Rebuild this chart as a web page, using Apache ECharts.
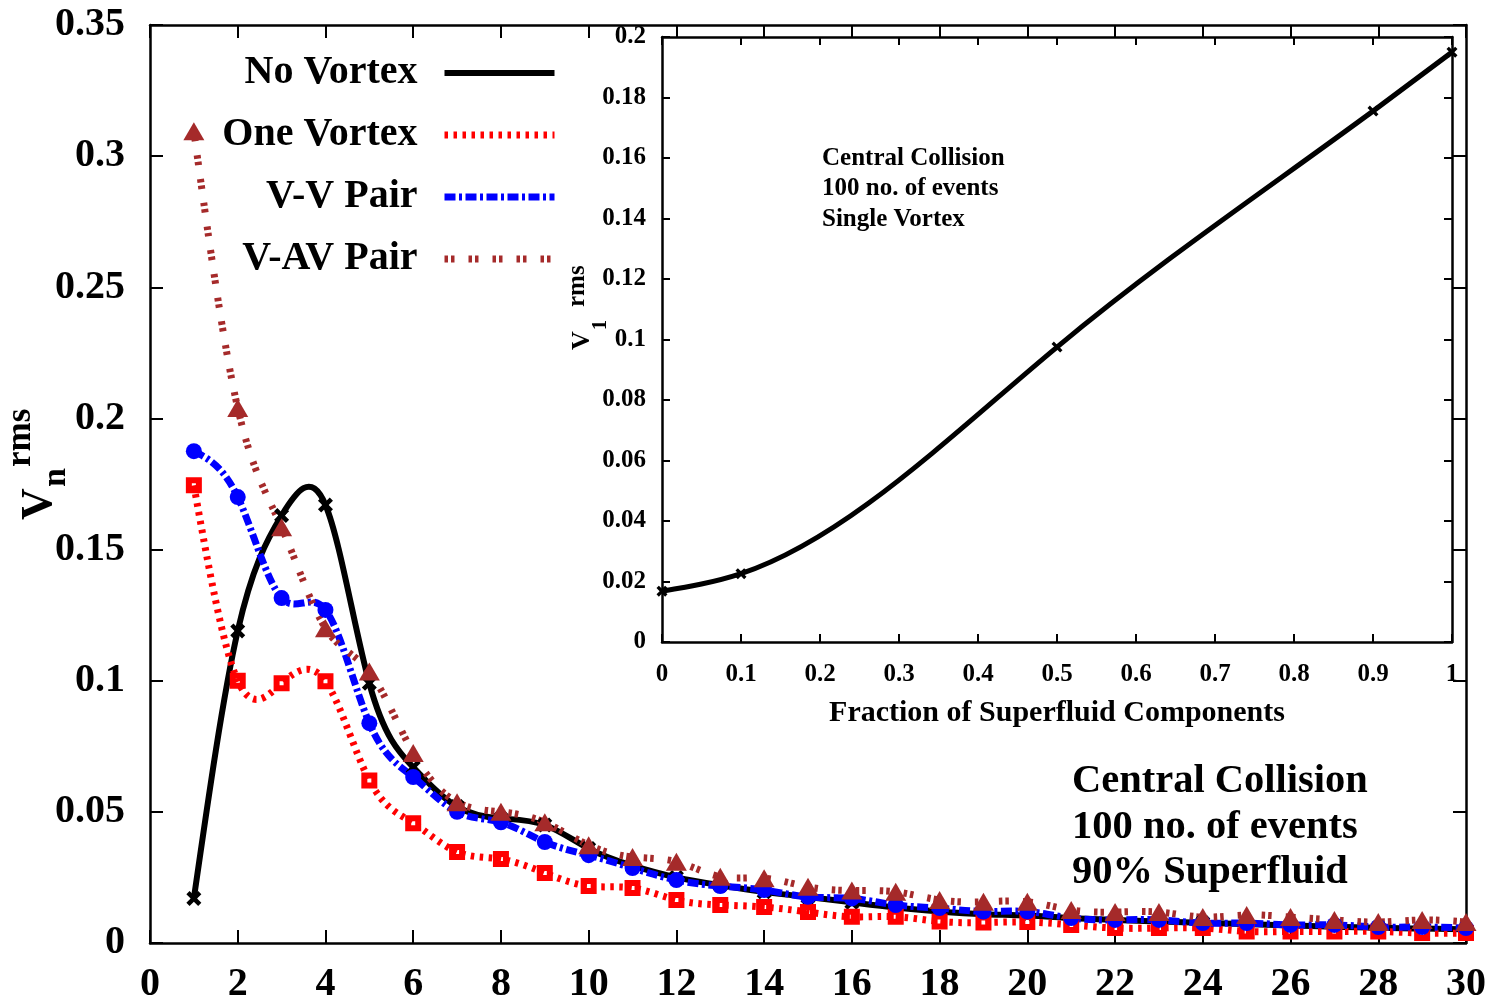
<!DOCTYPE html>
<html>
<head>
<meta charset="utf-8">
<script src="https://cdn.jsdelivr.net/npm/echarts@6/dist/echarts.min.js"></script>
<style>
  html, body { margin: 0; padding: 0; background: #fff; }
  #chart { width: 1499px; height: 1006px; }
</style>
</head>
<body>
<div id="chart"></div>
<script>
// Harmonic order n
const harmonics = [1, 2, 3, 4, 5, 6, 7, 8, 9, 10, 11, 12, 13, 14, 15, 16, 17, 18, 19, 20, 21, 22, 23, 24, 25, 26, 27, 28, 29, 30];

// v_n^rms for each vortex configuration
const noVortex = [0.017, 0.119, 0.163, 0.167, 0.099, 0.067, 0.052, 0.0475, 0.045, 0.036, 0.0295, 0.025, 0.022, 0.0195, 0.0175, 0.0155, 0.0135, 0.012, 0.011, 0.0105, 0.0095, 0.0088, 0.0082, 0.0077, 0.0072, 0.0067, 0.0062, 0.0058, 0.0055, 0.0052];
const oneVortex = [0.1745, 0.100, 0.099, 0.0998, 0.062, 0.0457, 0.0347, 0.032, 0.0267, 0.0217, 0.021, 0.0164, 0.0145, 0.0137, 0.0118, 0.0100, 0.0100, 0.0082, 0.0078, 0.0080, 0.0069, 0.0057, 0.0057, 0.0057, 0.0044, 0.0044, 0.0044, 0.0044, 0.0038, 0.0038];
const vvPair = [0.1875, 0.170, 0.1315, 0.127, 0.0838, 0.0633, 0.050, 0.046, 0.0385, 0.0335, 0.0286, 0.024, 0.0217, 0.0202, 0.0176, 0.017, 0.0145, 0.0133, 0.012, 0.012, 0.0095, 0.0088, 0.0088, 0.0076, 0.0076, 0.0069, 0.0069, 0.0061, 0.0061, 0.0057];
const vavPair = [0.3095, 0.204, 0.1585, 0.120, 0.1035, 0.0724, 0.0537, 0.050, 0.046, 0.0373, 0.0328, 0.031, 0.0253, 0.0247, 0.0214, 0.020, 0.0195, 0.0164, 0.0157, 0.0157, 0.0126, 0.0118, 0.0118, 0.0099, 0.0107, 0.0099, 0.0088, 0.008, 0.0088, 0.008];

// Inset: v_1^rms of a single vortex vs superfluid fraction
const superfluidFraction = [0, 0.1, 0.5, 0.9, 1.0];
const v1rms = [0.0168, 0.0226, 0.0975, 0.1755, 0.1950];

const seriesNames = ['No Vortex', 'One Vortex', 'V-V Pair', 'V-AV Pair'];

const FONT = 'Liberation Serif';
const crossPath = 'path://M0,3L3,0L7,4L11,0L14,3L10,7L14,11L11,14L7,10L3,14L0,11L4,7Z';
const boxPath = 'path://M0,0H16V16H0Z M6,6V10H10V6Z';

// line styles shared by the plotted curves and their legend samples
const styles = [
  { color: '#000000', width: 6 },
  { color: '#ff0000', width: 7, type: [3.5, 5.5] },
  { color: '#0000ff', width: 7, type: [11, 3.5, 3, 3.5] },
  { color: '#a52a2a', width: 7, type: [3.5, 3, 3.5, 14] }
];

function zip(xs, ys) { return xs.map((x, i) => [x, ys[i]]); }

// Second derivatives of the natural cubic spline through (xs, ys)
function splineMoments(xs, ys) {
  const n = xs.length;
  const M = new Array(n).fill(0);
  if (n < 3) return M;
  const h = [];
  for (let i = 0; i < n - 1; i++) h.push(xs[i + 1] - xs[i]);
  const a = [], b = [], c = [], d = [];
  for (let i = 1; i < n - 1; i++) {
    a.push(h[i - 1]);
    b.push(2 * (h[i - 1] + h[i]));
    c.push(h[i]);
    d.push(6 * ((ys[i + 1] - ys[i]) / h[i] - (ys[i] - ys[i - 1]) / h[i - 1]));
  }
  const m = b.length;
  for (let i = 1; i < m; i++) {
    const w = a[i] / b[i - 1];
    b[i] -= w * c[i - 1];
    d[i] -= w * d[i - 1];
  }
  const sol = new Array(m);
  sol[m - 1] = d[m - 1] / b[m - 1];
  for (let i = m - 2; i >= 0; i--) sol[i] = (d[i] - c[i] * sol[i + 1]) / b[i];
  for (let i = 0; i < m; i++) M[i + 1] = sol[i];
  return M;
}

// Spline curve as cubic Bezier segments, mapped through the axis scales
function splineRenderer(xs, ys, style) {
  const M = splineMoments(xs, ys);
  return function (params, api) {
    const pt = (x, y) => api.coord([x, y]);
    const p0 = pt(xs[0], ys[0]);
    let d = 'M' + p0[0] + ',' + p0[1];
    for (let i = 0; i < xs.length - 1; i++) {
      const h = xs[i + 1] - xs[i];
      const slope = (ys[i + 1] - ys[i]) / h;
      const s0 = slope - h * (2 * M[i] + M[i + 1]) / 6;
      const s1 = slope + h * (M[i] + 2 * M[i + 1]) / 6;
      const c1 = pt(xs[i] + h / 3, ys[i] + s0 * h / 3);
      const c2 = pt(xs[i + 1] - h / 3, ys[i + 1] - s1 * h / 3);
      const e = pt(xs[i + 1], ys[i + 1]);
      d += 'C' + c1[0] + ',' + c1[1] + ',' + c2[0] + ',' + c2[1] + ',' + e[0] + ',' + e[1];
    }
    return {
      type: 'path',
      shape: { pathData: d },
      style: {
        fill: null,
        stroke: style.color,
        lineWidth: style.width,
        lineDash: style.type || null
      },
      silent: true
    };
  };
}

function frameAxis(extra) {
  return Object.assign({
    type: 'value',
    splitLine: { show: false },
    axisLine: { show: true, onZero: false, lineStyle: { color: '#000', width: 2.5 } },
    axisTick: { show: true, inside: true, length: 13, lineStyle: { color: '#000', width: 2 } },
    axisLabel: { show: false },
    silent: true
  }, extra);
}

const mainLabel = { show: true, fontFamily: FONT, fontWeight: 'bold', fontSize: 40, color: '#000' };
const insetLabel = { show: true, fontFamily: FONT, fontWeight: 'bold', fontSize: 25, color: '#000' };
const insetTick = { show: true, inside: true, length: 8, lineStyle: { color: '#000', width: 2 } };

function textEl(x, y, text, size, rotated, extra) {
  return {
    type: 'text', x: x, y: y, z: 10,
    rotation: rotated ? Math.PI / 2 : 0,
    style: Object.assign({
      text: text, font: 'bold ' + size + 'px "' + FONT + '"', fill: '#000',
      align: 'left', textAlign: 'left',
      verticalAlign: rotated ? 'middle' : 'top', textVerticalAlign: rotated ? 'middle' : 'top'
    }, extra || {})
  };
}

const mainValues = [noVortex, oneVortex, vvPair, vavPair];
const mainSymbols = [
  { symbol: crossPath, symbolSize: 15 },
  { symbol: boxPath, symbolSize: 16 },
  { symbol: 'circle', symbolSize: 16 },
  { symbol: 'triangle', symbolSize: [21, 18] }
];

const series = [];
mainValues.forEach((vals, i) => {
  // curve
  series.push({
    name: seriesNames[i] + ' curve', type: 'custom', xAxisIndex: 0, yAxisIndex: 0,
    data: [[harmonics[0], vals[0]]],
    renderItem: splineRenderer(harmonics, vals, styles[i]),
    silent: true
  });
  // points
  series.push({
    name: seriesNames[i], type: 'line', xAxisIndex: 0, yAxisIndex: 0,
    data: zip(harmonics, vals), clip: false,
    symbol: mainSymbols[i].symbol, symbolSize: mainSymbols[i].symbolSize,
    lineStyle: { color: styles[i].color, width: 0, opacity: 0 },
    itemStyle: { color: styles[i].color },
    silent: true
  });
});

const insetStyle = { color: '#000000', width: 5 };
series.push({
  name: 'Single Vortex curve', type: 'custom', xAxisIndex: 2, yAxisIndex: 2, z: 5,
  data: [[superfluidFraction[0], v1rms[0]]],
  renderItem: splineRenderer(superfluidFraction, v1rms, insetStyle),
  silent: true
});
series.push({
  name: 'Single Vortex', type: 'line', xAxisIndex: 2, yAxisIndex: 2, z: 5,
  data: zip(superfluidFraction, v1rms), clip: false,
  symbol: crossPath, symbolSize: 11,
  lineStyle: { color: '#000', width: 0, opacity: 0 },
  itemStyle: { color: '#000' },
  silent: true
});

const chart = echarts.init(document.getElementById('chart'), null, { renderer: 'canvas' });

const option = {
  backgroundColor: '#fff',
  animation: false,
  grid: [
    { left: 150, top: 25, width: 1316, height: 918, show: true, backgroundColor: '#fff', borderWidth: 0 },
    { left: 662, top: 37, width: 790, height: 605, show: true, backgroundColor: '#fff', borderWidth: 0, z: 3 }
  ],
  xAxis: [
    frameAxis({ gridIndex: 0, position: 'bottom', min: 0, max: 30, interval: 2,
      axisLabel: Object.assign({ margin: 22 }, mainLabel) }),
    frameAxis({ gridIndex: 0, position: 'top', min: 0, max: 30, interval: 2 }),
    frameAxis({ gridIndex: 1, position: 'bottom', min: 0, max: 1, interval: 0.1, z: 4,
      axisTick: insetTick,
      axisLabel: Object.assign({ margin: 20 }, insetLabel),
      name: 'Fraction of Superfluid Components', nameLocation: 'middle', nameGap: 56,
      nameTextStyle: { fontFamily: FONT, fontWeight: 'bold', fontSize: 30, color: '#000' } }),
    frameAxis({ gridIndex: 1, position: 'top', min: 0, max: 1, interval: 0.1, z: 4, axisTick: insetTick })
  ],
  yAxis: [
    frameAxis({ gridIndex: 0, position: 'left', min: 0, max: 0.35, interval: 0.05,
      axisLabel: Object.assign({ margin: 25 }, mainLabel) }),
    frameAxis({ gridIndex: 0, position: 'right', min: 0, max: 0.35, interval: 0.05 }),
    frameAxis({ gridIndex: 1, position: 'left', min: 0, max: 0.2, interval: 0.02, z: 4,
      axisTick: insetTick,
      axisLabel: Object.assign({ margin: 16 }, insetLabel) }),
    frameAxis({ gridIndex: 1, position: 'right', min: 0, max: 0.2, interval: 0.02, z: 4, axisTick: insetTick })
  ],
  legend: {
    orient: 'vertical',
    align: 'right',
    right: 936,
    top: 48,
    itemWidth: 110,
    itemHeight: 14,
    itemGap: 22,
    selectedMode: false,
    itemStyle: { opacity: 0 },
    textStyle: { fontFamily: FONT, fontWeight: 'bold', fontSize: 40, color: '#000', padding: [0, 22, 0, 0] },
    data: seriesNames.map((name, i) => ({
      name: name,
      lineStyle: { color: styles[i].color, width: styles[i].width, type: styles[i].type || 'solid', opacity: 1 }
    }))
  },
  series: series,
  graphic: [
    // main y-axis title  V_n^rms
    textEl(40, 520, 'V', 44, true),
    textEl(56, 487, 'n', 34, true),
    textEl(21, 467, 'rms', 35, true),
    // inset y-axis title  V_1^rms
    textEl(582, 350, 'V', 26, true),
    textEl(601, 330, '1', 20, true),
    textEl(578, 307, 'rms', 25, true),
    // inset annotation
    textEl(822, 143, 'Central Collision\n100 no. of events\nSingle Vortex', 25, false, { lineHeight: 30.5 }),
    // main annotation
    textEl(1072, 759, 'Central Collision\n100 no. of events\n90% Superfluid', 40.5, false, { lineHeight: 45.5 })
  ]
};

chart.setOption(option);
</script>
</body>
</html>
